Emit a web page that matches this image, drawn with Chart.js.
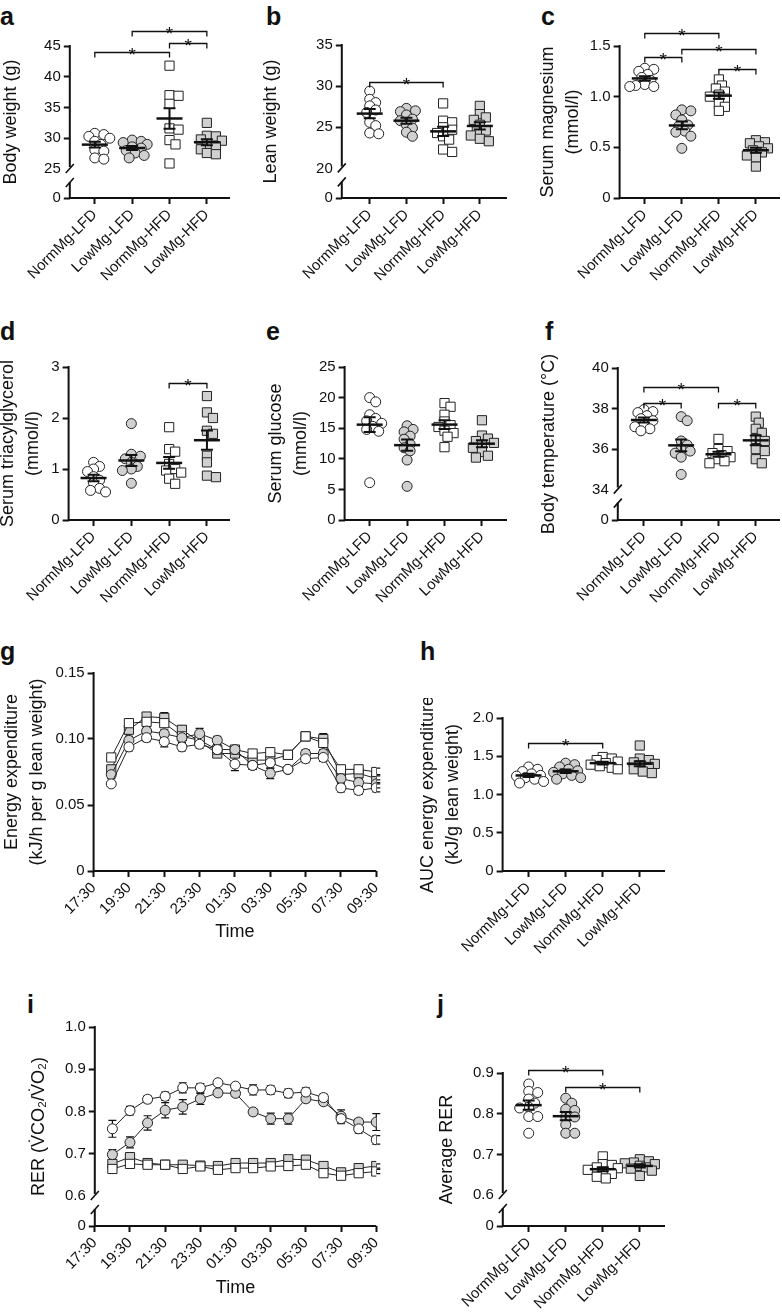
<!DOCTYPE html>
<html>
<head>
<meta charset="utf-8">
<script src="https://cdn.jsdelivr.net/npm/chart.js@4.4.0/dist/chart.umd.min.js"></script>
<style>
  body { margin: 0; background: #fff; width: 782px; height: 1315px; position: relative; overflow: hidden;
         font-family: 'Liberation Sans', Arial, sans-serif; }
  canvas { position: absolute; }
  .lt { position: absolute; font-weight: bold; font-size: 25px; line-height: 25px; color: #111; }
</style>
</head>
<body>
<div class="lt" style="left:0px;top:4px">a</div>
<div class="lt" style="left:266px;top:4px">b</div>
<div class="lt" style="left:541px;top:4px">c</div>
<div class="lt" style="left:0px;top:319px">d</div>
<div class="lt" style="left:266px;top:319px">e</div>
<div class="lt" style="left:545px;top:319px">f</div>
<div class="lt" style="left:0px;top:639px">g</div>
<div class="lt" style="left:420px;top:639px">h</div>
<div class="lt" style="left:27px;top:992px">i</div>
<div class="lt" style="left:437px;top:992px">j</div>
<script>
// ---- data ----
var groups = ['NormMg-LFD', 'LowMg-LFD', 'NormMg-HFD', 'LowMg-HFD'];

var bodyWeight = [
  [30.8, 30.6, 30.3, 30.0, 29.5, 29.0, 28.1, 27.9, 26.8, 26.6],
  [29.7, 29.5, 29.3, 29.0, 28.6, 28.4, 28.0, 27.6, 27.2, 26.8],
  [41.8, 37.0, 36.9, 35.6, 31.6, 31.4, 29.7, 29.0, 25.9],
  [32.5, 30.4, 30.3, 29.8, 29.6, 29.0, 28.7, 28.2, 27.6, 27.4]
];
var leanWeight = [
  [29.4, 28.4, 28.0, 27.6, 27.1, 26.8, 25.6, 25.2, 24.3, 24.2],
  [27.3, 27.0, 26.9, 26.5, 26.0, 25.8, 25.3, 24.9, 24.4, 23.9],
  [27.9, 25.8, 25.6, 25.0, 24.7, 24.3, 23.9, 23.5, 22.3, 22.0],
  [27.6, 26.6, 26.2, 25.9, 25.3, 24.6, 24.5, 24.0, 23.6, 23.3]
];
var serumMg = [
  [1.28, 1.27, 1.25, 1.22, 1.19, 1.16, 1.12, 1.11, 1.10, 1.10],
  [0.87, 0.86, 0.82, 0.77, 0.72, 0.71, 0.66, 0.65, 0.61, 0.49],
  [1.17, 1.11, 1.08, 1.05, 1.02, 1.00, 0.98, 0.93, 0.90, 0.86],
  [0.57, 0.55, 0.54, 0.51, 0.49, 0.47, 0.45, 0.42, 0.40, 0.31]
];
var serumTag = [
  [1.13, 1.05, 1.00, 0.95, 0.85, 0.78, 0.72, 0.62, 0.58, 0.55],
  [1.89, 1.29, 1.25, 1.20, 1.13, 1.05, 1.00, 0.97, 0.72],
  [1.82, 1.39, 1.34, 1.10, 1.00, 0.97, 0.93, 0.81, 0.71],
  [2.43, 2.11, 2.00, 1.75, 1.69, 1.26, 1.13, 0.87, 0.84]
];
var serumGlucose = [
  [20.0, 19.3, 17.2, 16.6, 16.2, 15.8, 15.3, 14.8, 14.5, 6.1],
  [15.4, 14.8, 14.4, 13.7, 13.2, 12.4, 11.8, 11.3, 9.8, 5.5],
  [19.1, 18.5, 17.2, 16.1, 15.5, 15.2, 14.6, 14.2, 13.6, 11.9],
  [16.3, 13.8, 13.3, 12.9, 12.6, 12.2, 11.8, 11.1, 10.5, 10.2]
];
var bodyTemp = [
  [37.95, 37.85, 37.8, 37.65, 37.5, 37.4, 37.2, 37.1, 37.0, 36.9],
  [37.6, 37.4, 36.4, 36.2, 36.0, 35.9, 35.8, 35.6, 34.75],
  [36.5, 36.0, 35.9, 35.8, 35.7, 35.6, 35.5, 35.4, 35.3],
  [37.6, 37.3, 37.0, 36.8, 36.5, 36.4, 36.0, 35.9, 35.5, 35.3]
];
var aucEnergy = [
  [1.36, 1.33, 1.30, 1.27, 1.25, 1.24, 1.22, 1.20, 1.17, 1.15],
  [1.41, 1.39, 1.36, 1.33, 1.31, 1.29, 1.27, 1.25, 1.22, 1.20],
  [1.49, 1.47, 1.45, 1.43, 1.41, 1.39, 1.37, 1.35, 1.33],
  [1.64, 1.47, 1.45, 1.42, 1.40, 1.38, 1.36, 1.33, 1.30, 1.28]
];
var averageRer = [
  [0.873, 0.855, 0.852, 0.836, 0.826, 0.816, 0.814, 0.793, 0.793, 0.752],
  [0.838, 0.826, 0.811, 0.808, 0.793, 0.792, 0.773, 0.752, 0.752],
  [0.695, 0.676, 0.674, 0.668, 0.666, 0.662, 0.657, 0.652, 0.645, 0.641],
  [0.688, 0.683, 0.680, 0.678, 0.676, 0.672, 0.668, 0.665, 0.660, 0.647]
];

// time course (hourly means and SEM)
var timeTicks = ['17:30', '19:30', '21:30', '23:30', '01:30', '03:30', '05:30', '07:30', '09:30'];
var timePoints = ['18:30', '19:30', '20:30', '21:30', '22:30', '23:30', '00:30', '01:30',
                  '02:30', '03:30', '04:30', '05:30', '06:30', '07:30', '08:30', '09:30'];

var energyMean = [
  [0.066, 0.094, 0.101, 0.098, 0.094, 0.096, 0.092, 0.081, 0.080, 0.082, 0.077, 0.085, 0.086, 0.063, 0.061, 0.063],
  [0.073, 0.099, 0.106, 0.104, 0.101, 0.104, 0.099, 0.092, 0.080, 0.074, 0.077, 0.089, 0.089, 0.070, 0.067, 0.066],
  [0.086, 0.112, 0.113, 0.112, 0.102, 0.099, 0.092, 0.092, 0.089, 0.090, 0.088, 0.102, 0.097, 0.077, 0.077, 0.075],
  [0.077, 0.107, 0.117, 0.116, 0.107, 0.098, 0.089, 0.089, 0.084, 0.084, 0.088, 0.102, 0.100, 0.073, 0.074, 0.070]
];
var energySem = [
  [0.002, 0.003, 0.003, 0.004, 0.003, 0.003, 0.003, 0.005, 0.003, 0.004, 0.002, 0.003, 0.003, 0.003, 0.003, 0.003],
  [0.003, 0.003, 0.003, 0.003, 0.004, 0.004, 0.003, 0.003, 0.003, 0.004, 0.002, 0.003, 0.003, 0.003, 0.003, 0.003],
  [0.003, 0.003, 0.002, 0.003, 0.003, 0.003, 0.003, 0.003, 0.002, 0.003, 0.003, 0.003, 0.003, 0.003, 0.003, 0.003],
  [0.003, 0.003, 0.003, 0.004, 0.003, 0.003, 0.003, 0.003, 0.003, 0.003, 0.003, 0.002, 0.004, 0.003, 0.003, 0.003]
];
var rerMean = [
  [0.759, 0.802, 0.829, 0.836, 0.856, 0.856, 0.868, 0.860, 0.851, 0.851, 0.843, 0.846, 0.833, 0.783, 0.759, 0.733],
  [0.698, 0.727, 0.773, 0.803, 0.811, 0.830, 0.844, 0.843, 0.799, 0.783, 0.783, 0.830, 0.823, 0.789, 0.775, 0.775],
  [0.664, 0.676, 0.674, 0.674, 0.664, 0.670, 0.662, 0.666, 0.666, 0.670, 0.671, 0.674, 0.654, 0.648, 0.654, 0.658],
  [0.676, 0.692, 0.678, 0.674, 0.674, 0.672, 0.671, 0.678, 0.678, 0.678, 0.687, 0.686, 0.671, 0.656, 0.666, 0.671]
];
var rerSem = [
  [0.020, 0.010, 0.008, 0.010, 0.012, 0.010, 0.005, 0.006, 0.012, 0.010, 0.010, 0.010, 0.008, 0.012, 0.010, 0.010],
  [0.012, 0.013, 0.017, 0.018, 0.017, 0.013, 0.008, 0.007, 0.008, 0.013, 0.013, 0.007, 0.007, 0.015, 0.008, 0.020],
  [0.008, 0.006, 0.005, 0.005, 0.005, 0.005, 0.006, 0.005, 0.005, 0.005, 0.005, 0.005, 0.006, 0.006, 0.005, 0.005],
  [0.007, 0.008, 0.005, 0.005, 0.005, 0.005, 0.005, 0.006, 0.006, 0.006, 0.006, 0.006, 0.006, 0.005, 0.005, 0.005]
];

// ---- drawing ----
var FONT = "'Liberation Sans', Arial, sans-serif";
var INK = '#111';
Chart.defaults.font.family = FONT;
Chart.defaults.color = INK;

var groupStyle = [
  { shape: 'circle', fill: '#ffffff', r: 5 },
  { shape: 'circle', fill: '#d0d0d0', r: 5 },
  { shape: 'rect', fill: '#ffffff', r: 6.5 },
  { shape: 'rect', fill: '#d0d0d0', r: 6.5 }
];

function mean(a) {
  var s = 0;
  a.forEach(function (v) { s += v; });
  return s / a.length;
}
function sem(a) {
  var m = mean(a), s = 0;
  a.forEach(function (v) { s += (v - m) * (v - m); });
  return Math.sqrt(s / (a.length - 1)) / Math.sqrt(a.length);
}
function hourIndex(t) {
  var parts = t.split(':');
  var h = parseInt(parts[0], 10) + parseInt(parts[1], 10) / 60;
  return (h - 17.5 + 24) % 24;
}

// spread points sideways (prism-like scatter), worked out from the values only
function swarm(vals, pxPerY, pxPerX) {
  var order = vals.map(function (v, i) { return i; }).sort(function (a, b) { return vals[b] - vals[a]; });
  var cand = [0];
  for (var k = 3; k <= 15; k += 3) { cand.push(k); cand.push(-k); }
  var placed = [], off = vals.map(function () { return 0; });
  order.forEach(function (i) {
    var y = vals[i] * pxPerY, best = 0, bestD = -1;
    for (var c = 0; c < cand.length; c++) {
      var dx = cand[c], dmin = 1e9;
      placed.forEach(function (q) {
        var d = Math.sqrt((q[0] - dx) * (q[0] - dx) + (q[1] - y) * (q[1] - y));
        if (d < dmin) dmin = d;
      });
      if (dmin >= 6.5) { best = dx; bestD = dmin; break; }
      if (dmin > bestD) { bestD = dmin; best = dx; }
    }
    placed.push([best, y]);
    off[i] = best / pxPerX;
  });
  return off;
}

function makeDecor(p) {
  return {
    id: 'decor',
    beforeDatasetsDraw: function (chart) {
      if (!p.series) return;
      var ctx = chart.ctx, xs = chart.scales.x, ys = chart.scales.y;
      ctx.save();
      ctx.strokeStyle = INK;
      ctx.lineWidth = 1.2;
      p.series.forEach(function (s) {
        s.mean.forEach(function (m, i) {
          var x = xs.getPixelForValue(p.xVals[i]);
          var y1 = ys.getPixelForValue(m - s.sem[i]), y2 = ys.getPixelForValue(m + s.sem[i]);
          ctx.beginPath();
          ctx.moveTo(x, y1); ctx.lineTo(x, y2);
          ctx.moveTo(x - 4, y1); ctx.lineTo(x + 4, y1);
          ctx.moveTo(x - 4, y2); ctx.lineTo(x + 4, y2);
          ctx.stroke();
        });
      });
      ctx.restore();
    },
    afterDatasetsDraw: function (chart) {
      var ctx = chart.ctx, xs = chart.scales.x, ys = chart.scales.y, ca = chart.chartArea;
      ctx.save();
      ctx.strokeStyle = INK;
      ctx.fillStyle = INK;

      // mean +/- SEM over the dots
      if (p.groups) {
        p.groups.forEach(function (vals, g) {
          var m = mean(vals), e = sem(vals), x = xs.getPixelForValue(g);
          var ym = ys.getPixelForValue(m), ya = ys.getPixelForValue(m - e), yb = ys.getPixelForValue(m + e);
          ctx.lineWidth = 2;
          ctx.beginPath();
          ctx.moveTo(x, ya); ctx.lineTo(x, yb);
          ctx.moveTo(x - 6, ya); ctx.lineTo(x + 6, ya);
          ctx.moveTo(x - 6, yb); ctx.lineTo(x + 6, yb);
          ctx.stroke();
          ctx.lineWidth = 2.5;
          ctx.beginPath();
          ctx.moveTo(x - 13, ym); ctx.lineTo(x + 13, ym);
          ctx.stroke();
        });
      }

      // axis lines (with a break where needed)
      var ax = ca.left, bot = ca.bottom;
      ctx.lineWidth = 2;
      ctx.beginPath();
      ctx.moveTo(ax - 1, bot); ctx.lineTo(ca.right, bot);
      if (p.brk != null) {
        var b = ys.getPixelForValue(p.brk);
        ctx.moveTo(ax, ca.top - 1); ctx.lineTo(ax, b - 2);
        ctx.moveTo(ax, b + 13); ctx.lineTo(ax, bot);
        ctx.stroke();
        ctx.lineWidth = 1.6;
        ctx.beginPath();
        ctx.moveTo(ax - 4, b + 4); ctx.lineTo(ax + 4, b - 5);
        ctx.moveTo(ax - 4, b + 18); ctx.lineTo(ax + 4, b + 9);
      } else {
        ctx.moveTo(ax, ca.top - 1); ctx.lineTo(ax, bot);
      }
      ctx.stroke();

      // significance brackets
      if (p.brackets) {
        ctx.lineWidth = 1.3;
        ctx.font = '19px ' + FONT;
        ctx.textAlign = 'center';
        ctx.textBaseline = 'alphabetic';
        p.brackets.forEach(function (br) {
          var x1 = xs.getPixelForValue(br[0]), x2 = xs.getPixelForValue(br[1]);
          var y = Math.round(ys.getPixelForValue(br[2])) + 0.5;
          ctx.beginPath();
          ctx.moveTo(x1, y + 5); ctx.lineTo(x1, y); ctx.lineTo(x2, y); ctx.lineTo(x2, y + 5);
          ctx.stroke();
          ctx.fillText('*', (x1 + x2) / 2, y + 8);
        });
      }
      ctx.restore();
    }
  };
}

function panel(p) {
  var lh = Array.isArray(p.title) ? 25.2 : 21.6;
  var cl = p.titleX - lh / 2 - 2;
  var R = 14;
  var W = Math.round(p.box[2] + R - cl), H = p.canvasBottom - p.canvasTop;
  var cv = document.createElement('canvas');
  cv.width = W; cv.height = H;
  cv.style.left = cl + 'px';
  cv.style.top = p.canvasTop + 'px';
  cv.style.width = W + 'px';
  cv.style.height = H + 'px';
  document.body.appendChild(cv);

  var plotH = p.box[3] - p.box[1], plotW = p.box[2] - p.box[0];
  var pxPerY = plotH / (p.yMax - p.yMin), pxPerX = plotW / (p.xMax - p.xMin);
  var datasets = [];

  if (p.groups) {
    p.groups.forEach(function (vals, g) {
      var off = swarm(vals, pxPerY, pxPerX);
      var st = groupStyle[g];
      datasets.push({
        label: groups[g],
        data: vals.map(function (v, i) { return { x: g + off[i], y: v }; }),
        showLine: false,
        pointStyle: st.shape,
        pointRadius: st.r,
        pointBackgroundColor: st.fill,
        pointBorderColor: '#222',
        pointBorderWidth: 1
      });
    });
  }
  if (p.series) {
    p.series.forEach(function (s, g) {
      var st = groupStyle[g];
      datasets.push({
        label: groups[g],
        data: s.mean.map(function (v, i) { return { x: p.xVals[i], y: v }; }),
        showLine: true,
        borderColor: '#222',
        borderWidth: 1,
        pointStyle: st.shape,
        pointRadius: st.r,
        pointBackgroundColor: st.fill,
        pointBorderColor: '#222',
        pointBorderWidth: 1
      });
    });
  }

  var yTickVals = p.yTicks.map(function (v) { return (v === 0 && p.brk != null) ? p.yMin : v; });

  new Chart(cv, {
    type: 'scatter',
    data: { datasets: datasets },
    options: {
      responsive: false,
      animation: false,
      events: [],
      layout: { padding: { top: p.box[1] - p.canvasTop, right: R, left: 0, bottom: 0 } },
      plugins: { legend: { display: false }, tooltip: { enabled: false } },
      scales: {
        x: {
          type: 'linear',
          min: p.xMin,
          max: p.xMax,
          afterFit: function (s) { s.height = p.canvasBottom - p.box[3]; },
          afterBuildTicks: function (s) { s.ticks = p.xTickVals.map(function (v) { return { value: v }; }); },
          ticks: {
            autoSkip: false,
            maxRotation: 45,
            minRotation: 45,
            padding: 2,
            font: { size: 15 },
            color: INK,
            callback: function (v, i) { return p.xTickLabels[i]; }
          },
          grid: { display: true, drawOnChartArea: false, drawTicks: true, tickLength: 6, tickWidth: 2, tickColor: INK },
          border: { display: false },
          title: { display: !!p.xTitle, text: p.xTitle || '', font: { size: 18 }, color: INK, padding: 0 }
        },
        y: {
          type: 'linear',
          min: p.yMin,
          max: p.yMax,
          afterFit: function (s) { s.width = p.box[0] - cl; },
          afterBuildTicks: function (s) { s.ticks = yTickVals.map(function (v) { return { value: v }; }); },
          ticks: {
            autoSkip: false,
            padding: 3,
            font: { size: 15 },
            color: INK,
            callback: function (v, i) { return p.yTickLabels[i]; }
          },
          grid: {
            display: true, drawOnChartArea: false, drawTicks: true, tickLength: 6, tickWidth: 2,
            tickColor: function (c) { return (p.brk != null && c.tick && c.tick.value === p.brk) ? 'rgba(0,0,0,0)' : INK; }
          },
          border: { display: false },
          title: {
            display: true, text: p.title, color: INK,
            font: { size: 18, lineHeight: Array.isArray(p.title) ? 1.4 : 1.2 },
            padding: { top: 2, bottom: 0 }
          }
        }
      }
    },
    plugins: [makeDecor(p)]
  });
}

var catVals = [0, 1, 2, 3];
var timeVals = timePoints.map(hourIndex);
var timeTickVals = timeTicks.map(hourIndex);

function series(means, sems) {
  return means.map(function (m, i) { return { mean: m, sem: sems[i] }; });
}

panel({ groups: bodyWeight, title: 'Body weight (g)', titleX: 11,
  box: [70, 46, 230, 198], canvasTop: 8, canvasBottom: 290,
  xMin: -0.67, xMax: 3.62, xTickVals: catVals, xTickLabels: groups,
  yMin: 20.28, yMax: 45, brk: 25, yTicks: [0, 25, 30, 35, 40, 45], yTickLabels: ['0', '25', '30', '35', '40', '45'],
  brackets: [[1, 3, 47.4], [0, 2, 44.0], [2, 3, 45.5]] });

panel({ groups: leanWeight, title: 'Lean weight (g)', titleX: 271,
  box: [342, 45, 507, 198], canvasTop: 8, canvasBottom: 290,
  xMin: -0.76, xMax: 3.74, xTickVals: catVals, xTickLabels: groups,
  yMin: 16.4, yMax: 35, brk: 20, yTicks: [0, 20, 25, 30, 35], yTickLabels: ['0', '20', '25', '30', '35'],
  brackets: [[0, 2, 30.5]] });

panel({ groups: serumMg, title: ['Serum magnesium', '(mmol/l)'], titleX: 548,
  box: [620, 46, 780, 198], canvasTop: 8, canvasBottom: 290,
  xMin: -0.68, xMax: 3.65, xTickVals: catVals, xTickLabels: groups,
  yMin: 0, yMax: 1.5, brk: null, yTicks: [0, 0.5, 1.0, 1.5], yTickLabels: ['0', '0.5', '1.0', '1.5'],
  brackets: [[0, 2, 1.63], [1, 3, 1.47], [0, 1, 1.39], [2, 3, 1.27]] });

panel({ groups: serumTag, title: ['Serum triacylglycerol', '(mmol/l)'], titleX: 8,
  box: [69, 367, 230, 520], canvasTop: 348, canvasBottom: 610,
  xMin: -0.66, xMax: 3.61, xTickVals: catVals, xTickLabels: groups,
  yMin: 0, yMax: 3, brk: null, yTicks: [0, 1, 2, 3], yTickLabels: ['0', '1', '2', '3'],
  brackets: [[2, 3, 2.69]] });

panel({ groups: serumGlucose, title: ['Serum glucose', '(mmol/l)'], titleX: 276,
  box: [345, 367, 507, 520], canvasTop: 348, canvasBottom: 610,
  xMin: -0.67, xMax: 3.67, xTickVals: catVals, xTickLabels: groups,
  yMin: 0, yMax: 25, brk: null, yTicks: [0, 5, 10, 15, 20, 25], yTickLabels: ['0', '5', '10', '15', '20', '25'],
  brackets: [] });

panel({ groups: bodyTemp, title: 'Body temperature (\u00B0C)', titleX: 549,
  box: [618, 368, 780, 520], canvasTop: 352, canvasBottom: 610,
  xMin: -0.70, xMax: 3.65, xTickVals: catVals, xTickLabels: groups,
  yMin: 32.5, yMax: 40, brk: 34, yTicks: [0, 34, 36, 38, 40], yTickLabels: ['0', '34', '36', '38', '40'],
  brackets: [[0, 2, 39.07], [0, 1, 38.28], [2, 3, 38.28]] });

panel({ series: series(energyMean, energySem), xVals: timeVals,
  title: ['Energy expenditure', '(kJ/h per g lean weight)'], titleX: 12, xTitle: 'Time',
  box: [94, 673, 377, 871], canvasTop: 650, canvasBottom: 943,
  xMin: 0, xMax: 16, xTickVals: timeTickVals, xTickLabels: timeTicks,
  yMin: 0, yMax: 0.15, brk: null, yTicks: [0, 0.05, 0.10, 0.15], yTickLabels: ['0', '0.05', '0.10', '0.15'] });

panel({ groups: aucEnergy, title: ['AUC energy expenditure', '(kJ/g lean weight)'], titleX: 428,
  box: [503, 718, 665, 871], canvasTop: 698, canvasBottom: 960,
  xMin: -0.70, xMax: 3.68, xTickVals: catVals, xTickLabels: groups,
  yMin: 0, yMax: 2.0, brk: null, yTicks: [0, 0.5, 1.0, 1.5, 2.0], yTickLabels: ['0', '0.5', '1.0', '1.5', '2.0'],
  brackets: [[0, 2, 1.67]] });

panel({ series: series(rerMean, rerSem), xVals: timeVals,
  title: 'RER (V\u0307CO\u2082/V\u0307O\u2082)', titleX: 39, xTitle: 'Time',
  box: [95, 1027, 377, 1226], canvasTop: 1008, canvasBottom: 1299,
  xMin: 0, xMax: 16, xTickVals: timeTickVals, xTickLabels: timeTicks,
  yMin: 0.529, yMax: 1.0, brk: 0.6, yTicks: [0, 0.6, 0.7, 0.8, 0.9, 1.0], yTickLabels: ['0', '0.6', '0.7', '0.8', '0.9', '1.0'] });

panel({ groups: averageRer, title: 'Average RER', titleX: 447,
  box: [503, 1073, 665, 1226], canvasTop: 1048, canvasBottom: 1313,
  xMin: -0.70, xMax: 3.68, xTickVals: catVals, xTickLabels: groups,
  yMin: 0.524, yMax: 0.9, brk: 0.6, yTicks: [0, 0.6, 0.7, 0.8, 0.9], yTickLabels: ['0', '0.6', '0.7', '0.8', '0.9'],
  brackets: [[0, 2, 0.907], [1, 3, 0.866]] });
</script>
</body>
</html>
